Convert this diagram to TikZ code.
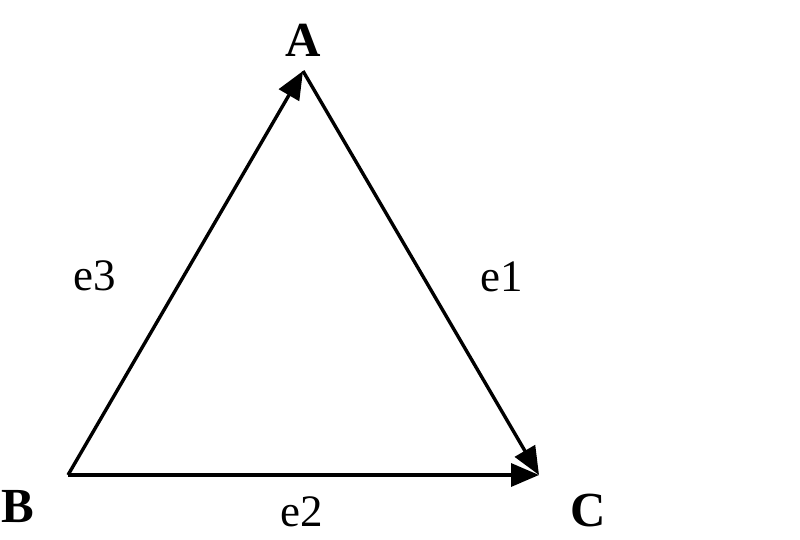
\documentclass[tikz,border=0pt]{standalone}
\usepackage{fontspec}
\setmainfont{Liberation Serif}
\usetikzlibrary{arrows.meta}
\begin{document}
\begin{tikzpicture}[x=1pt,y=-1pt,
  edge/.style={line width=3.4pt,-{Triangle[length=28pt,width=23pt]}},
  vlabel/.style={font=\fontsize{49}{49}\selectfont\bfseries,inner sep=0pt},
  elabel/.style={font=\fontsize{45}{45}\selectfont,inner sep=0pt}]
\useasboundingbox (0,0) rectangle (800,540);
\coordinate (A) at (303,71);
\coordinate (B) at (68,475);
\coordinate (C) at (539,475);
\draw[edge] (B) -- (A);
\draw[edge] (A) -- (C);
\draw[edge] (B) -- (C);
\node[vlabel] (lA) at (303,40) {A};
\node[vlabel] (lB) at (18,507) {B};
\node[vlabel] (lC) at (588,511) {C};
\node[elabel] (e3) at (95,276) {e3};
\node[elabel] (e1) at (502,277) {e1};
\node[elabel] (e2) at (302,512) {e2};
\end{tikzpicture}
\end{document}
